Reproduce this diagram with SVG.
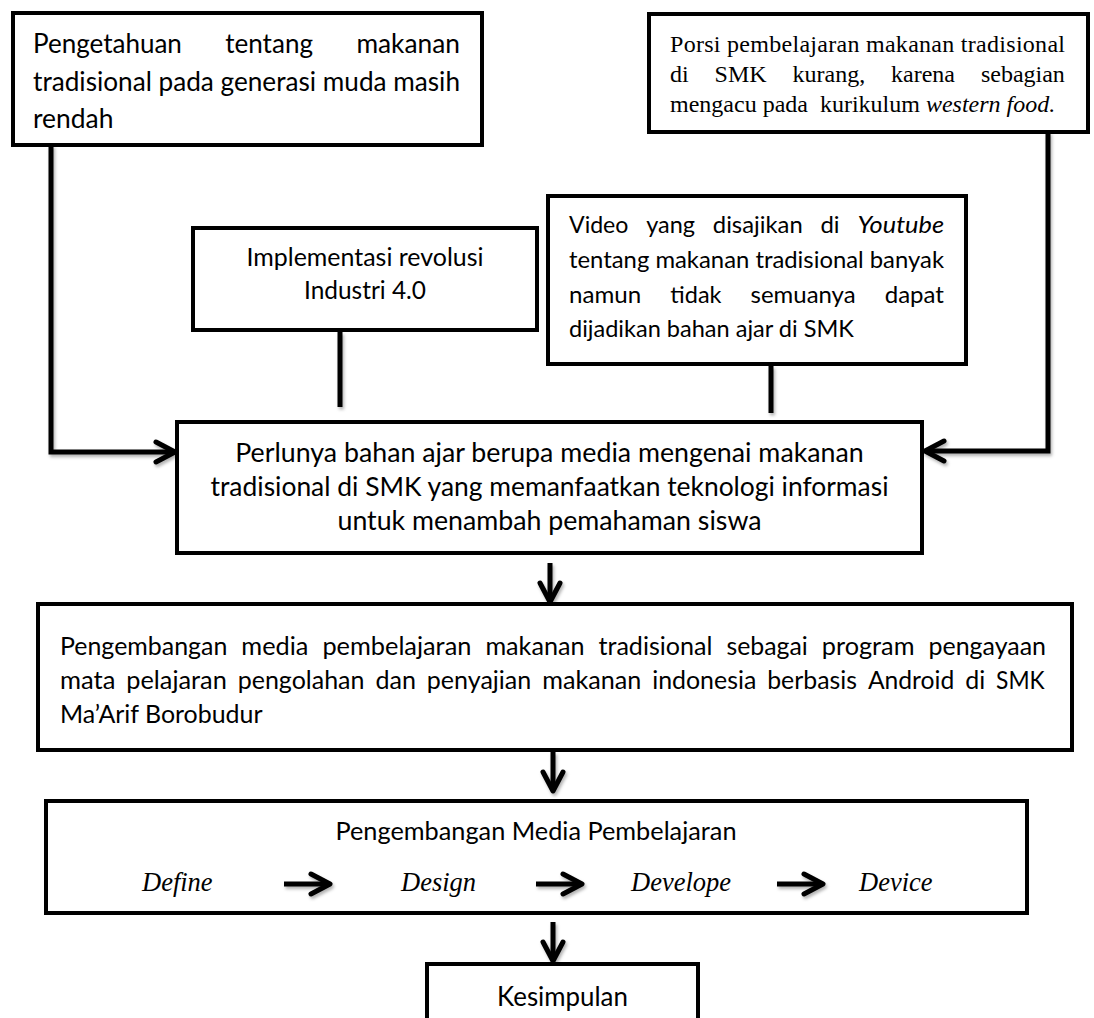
<svg xmlns="http://www.w3.org/2000/svg" width="1094" height="1018" viewBox="0 0 1094 1018">
<style>
.box{fill:#fff;stroke:#000;stroke-width:4}
.cal{font-family:Lato,"Open Sans","Liberation Sans",sans-serif;fill:#000}
.tnr{font-family:"Liberation Serif","Times New Roman",serif;fill:#000}
.conn{fill:none;stroke:#000;stroke-width:5}
.it{font-style:italic}
</style>
<defs>
<marker id="chev" markerUnits="userSpaceOnUse" markerWidth="30" markerHeight="30" viewBox="-5 -5 30 30" refX="17" refY="10" orient="auto">
<path d="M0,0 L19,10 L0,20" fill="none" stroke="#000" stroke-width="5" stroke-linecap="round" stroke-linejoin="round"/>
</marker>
<filter id="sh" filterUnits="userSpaceOnUse" x="0" y="0" width="1094" height="1018">
<feDropShadow dx="1.5" dy="2.5" stdDeviation="1.5" flood-color="#000" flood-opacity="0.3"/>
</filter>
</defs>

<g id="connectors" filter="url(#sh)">
<path class="conn" d="M51,145 V452 H173" marker-end="url(#chev)"/>
<path class="conn" d="M1048,132 V451 H927" marker-end="url(#chev)"/>
<path class="conn" d="M340,332 V407"/>
<path class="conn" d="M771,366 V413"/>
<path class="conn" d="M550,563 V600" marker-end="url(#chev)"/>
<path class="conn" d="M553,752 V789" marker-end="url(#chev)"/>
<path class="conn" d="M553,922 V959" marker-end="url(#chev)"/>
</g>

<g id="node-pengetahuan">
<rect class="box" x="13" y="13" width="469" height="132"/>
<g class="cal" font-size="26">
<text x="33" y="53" textLength="148.9" lengthAdjust="spacingAndGlyphs">Pengetahuan</text>
<text x="225.2" y="53" textLength="87.8" lengthAdjust="spacingAndGlyphs">tentang</text>
<text x="356.4" y="53" textLength="103.6" lengthAdjust="spacingAndGlyphs">makanan</text>
<text x="33" y="91" textLength="427" lengthAdjust="spacingAndGlyphs">tradisional pada generasi muda masih</text>
<text x="33" y="128" textLength="80.4" lengthAdjust="spacingAndGlyphs">rendah</text>
</g>
</g>

<g id="node-porsi">
<rect class="box" x="649" y="14" width="439" height="118"/>
<g class="tnr" font-size="24">
<text x="670" y="52" textLength="395" lengthAdjust="spacing">Porsi pembelajaran makanan tradisional</text>
<text x="670" y="82">di</text>
<text x="714.6" y="82">SMK</text>
<text x="792.5" y="82">kurang,</text>
<text x="891" y="82">karena</text>
<text x="980.9" y="82">sebagian</text>
<text x="670" y="112" style="white-space:pre">mengacu pada  kurikulum <tspan class="it">western food.</tspan></text>
</g>
</g>

<g id="node-implementasi">
<rect class="box" x="193" y="228" width="344" height="102"/>
<g class="cal" font-size="24.8" text-anchor="middle">
<text x="365" y="266" textLength="237" lengthAdjust="spacingAndGlyphs">Implementasi revolusi</text>
<text x="365" y="299" textLength="122" lengthAdjust="spacingAndGlyphs">Industri 4.0</text>
</g>
</g>

<g id="node-video">
<rect class="box" x="548" y="196" width="418" height="168"/>
<g class="cal" font-size="23.8">
<text x="569" y="233" textLength="59.4" lengthAdjust="spacingAndGlyphs">Video</text>
<text x="646.2" y="233" textLength="48.8" lengthAdjust="spacingAndGlyphs">yang</text>
<text x="712.8" y="233" textLength="89.9" lengthAdjust="spacingAndGlyphs">disajikan</text>
<text x="820.5" y="233" textLength="19.1" lengthAdjust="spacingAndGlyphs">di</text>
<text x="857.4" y="233" textLength="86.6" lengthAdjust="spacingAndGlyphs" class="it">Youtube</text>
<text x="569" y="268" textLength="375" lengthAdjust="spacingAndGlyphs">tentang makanan tradisional banyak</text>
<text x="569" y="303" textLength="72.2" lengthAdjust="spacingAndGlyphs">namun</text>
<text x="670.3" y="303" textLength="51.2" lengthAdjust="spacingAndGlyphs">tidak</text>
<text x="750.6" y="303" textLength="105" lengthAdjust="spacingAndGlyphs">semuanya</text>
<text x="884.7" y="303" textLength="59.3" lengthAdjust="spacingAndGlyphs">dapat</text>
<text x="569" y="337" textLength="284.9" lengthAdjust="spacingAndGlyphs">dijadikan bahan ajar di SMK</text>
</g>
</g>

<g id="node-perlunya">
<rect class="box" x="177" y="422" width="745" height="131" stroke-width="3.5"/>
<g class="cal" font-size="26.6" text-anchor="middle">
<text x="549.5" y="462" textLength="628.5" lengthAdjust="spacingAndGlyphs">Perlunya bahan ajar berupa media mengenai makanan</text>
<text x="549.5" y="496" textLength="678" lengthAdjust="spacingAndGlyphs">tradisional di SMK yang memanfaatkan teknologi informasi</text>
<text x="549.5" y="530" textLength="424" lengthAdjust="spacingAndGlyphs">untuk menambah pemahaman siswa</text>
</g>
</g>

<g id="node-pengembangan">
<rect class="box" x="38" y="604" width="1034" height="146" stroke-width="5"/>
<g class="cal" font-size="25">
<text x="60" y="655" textLength="167.3" lengthAdjust="spacingAndGlyphs">Pengembangan</text>
<text x="241.3" y="655" textLength="67.1" lengthAdjust="spacingAndGlyphs">media</text>
<text x="322.4" y="655" textLength="149" lengthAdjust="spacingAndGlyphs">pembelajaran</text>
<text x="485.4" y="655" textLength="99.1" lengthAdjust="spacingAndGlyphs">makanan</text>
<text x="598.5" y="655" textLength="113.9" lengthAdjust="spacingAndGlyphs">tradisional</text>
<text x="726.4" y="655" textLength="81.4" lengthAdjust="spacingAndGlyphs">sebagai</text>
<text x="821.8" y="655" textLength="92.7" lengthAdjust="spacingAndGlyphs">program</text>
<text x="928.5" y="655" textLength="117.5" lengthAdjust="spacingAndGlyphs">pengayaan</text>
<text x="60" y="689" textLength="55.4" lengthAdjust="spacingAndGlyphs">mata</text>
<text x="126.3" y="689" textLength="100.5" lengthAdjust="spacingAndGlyphs">pelajaran</text>
<text x="237.7" y="689" textLength="126.8" lengthAdjust="spacingAndGlyphs">pengolahan</text>
<text x="375.4" y="689" textLength="40.5" lengthAdjust="spacingAndGlyphs">dan</text>
<text x="426.8" y="689" textLength="104.5" lengthAdjust="spacingAndGlyphs">penyajian</text>
<text x="542.2" y="689" textLength="99.1" lengthAdjust="spacingAndGlyphs">makanan</text>
<text x="652.2" y="689" textLength="104.1" lengthAdjust="spacingAndGlyphs">indonesia</text>
<text x="767.2" y="689" textLength="89.8" lengthAdjust="spacingAndGlyphs">berbasis</text>
<text x="867.9" y="689" textLength="86.4" lengthAdjust="spacingAndGlyphs">Android</text>
<text x="965.2" y="689" textLength="20" lengthAdjust="spacingAndGlyphs">di</text>
<text x="996.1" y="689" textLength="48.6" lengthAdjust="spacingAndGlyphs">SMK</text>
<text x="60" y="723" textLength="202.5" lengthAdjust="spacingAndGlyphs">Ma’Arif Borobudur</text>
</g>
</g>

<g id="node-media">
<rect class="box" x="46" y="801" width="981" height="112" stroke-width="5"/>
<text class="cal" font-size="25.2" x="536" y="840" text-anchor="middle" textLength="401" lengthAdjust="spacingAndGlyphs">Pengembangan Media Pembelajaran</text>
<g class="tnr it" font-size="26.5">
<text x="142" y="891">Define</text>
<text x="401" y="891">Design</text>
<text x="631" y="891">Develope</text>
<text x="859" y="891">Device</text>
</g>
<g filter="url(#sh)">
<path class="conn" d="M284,884 H328" marker-end="url(#chev)"/>
<path class="conn" d="M536,884 H580" marker-end="url(#chev)"/>
<path class="conn" d="M777,884 H821" marker-end="url(#chev)"/>
</g>
</g>

<g id="node-kesimpulan">
<path d="M427,1020 V964 H698 V1020 Z" fill="#fff" stroke="#000" stroke-width="4"/>
<text class="cal" font-size="26" x="562.5" y="1006" text-anchor="middle" textLength="130.8" lengthAdjust="spacingAndGlyphs">Kesimpulan</text>
</g>
</svg>
